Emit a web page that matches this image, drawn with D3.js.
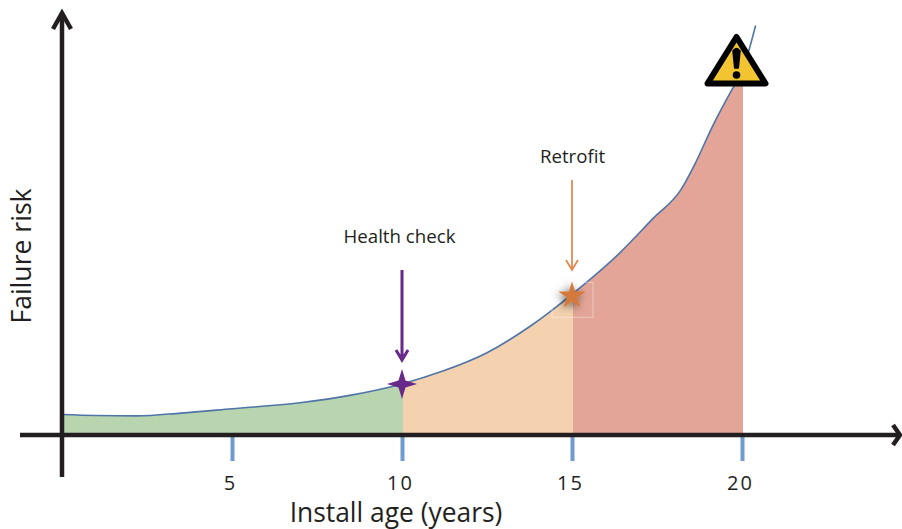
<!DOCTYPE html>
<html>
<head>
<meta charset="utf-8">
<script src="https://cdn.jsdelivr.net/npm/d3@7"></script>
<style>
    html, body { margin: 0; padding: 0; background: #fff; }
    svg { display: block; font-family: "Open Sans", "Noto Sans", sans-serif; fill: #231f20; }
    .axis-line { stroke: #231f20; stroke-width: 4.5; fill: none; stroke-linejoin: miter; }
</style>
</head>
<body>
<div id="chart"></div>
<script>
// values, risk is on an arbitrary 0-100 scale
const AGES = [0, 1, 2.2, 3.5, 5, 7, 8.5, 10, 11.2, 12.5, 13.8, 15, 16.4, 17.4, 18.2, 18.6, 19.15, 19.7, 20, 20.4];
const RISK = [4.75, 4.5, 4.4, 5.1, 6.2, 7.7, 9.6, 12.4, 15.6, 20.2, 27, 34.8, 45.1, 53.9, 60.9, 67.1, 77.1, 85.9, 90.4, 102];
const TICKS = [5, 10, 15, 20];
const ZONES = [
    { from: 0, to: 10, color: "#b8d5b0" },
    { from: 10, to: 15, color: "#f4d2b0" },
    { from: 15, to: 20, color: "#e3a597" }
];
const EVENTS = [
    { age: 10, risk: 12.4, label: "Health check", color: "#68298a", top: 270, bottom: 360, width: 3, labelX: 399.5, labelY: 243 },
    { age: 15, risk: 34.8, label: "Retrofit", color: "#df8b50", top: 180, bottom: 270, width: 1.8, labelX: 572.5, labelY: 163 }
];

const width = 902;
const height = 529;

const svg = d3.select("#chart")
    .append("svg")
    .attr("width", width)
    .attr("height", height)
    .attr("viewBox", `0 0 ${width} ${height}`);

const x = d3.scaleLinear().domain([0, 20]).range([62, 742]);
const y = d3.scaleLinear().domain([0, 100]).range([433.5, 33.5]);

const data = AGES.map((age, i) => ({ age, risk: RISK[i] }));

const defs = svg.append("defs");
const shadow = defs.append("filter")
    .attr("id", "star-shadow")
    .attr("x", "-80%").attr("y", "-80%")
    .attr("width", "260%").attr("height", "260%");
shadow.append("feDropShadow")
    .attr("dx", -2).attr("dy", 2)
    .attr("stdDeviation", 4)
    .attr("flood-color", "#000")
    .attr("flood-opacity", 0.55);

ZONES.forEach((z, i) => {
    defs.append("clipPath")
        .attr("id", `zone-${i}`)
        .append("rect")
        .attr("x", x(z.from))
        .attr("y", 0)
        .attr("width", x(z.to) - x(z.from) + 1)
        .attr("height", height);
});

const area = d3.area()
    .x(d => x(d.age))
    .y0(y(0))
    .y1(d => y(d.risk))
    .curve(d3.curveMonotoneX);

const line = d3.line()
    .x(d => x(d.age))
    .y(d => y(d.risk))
    .curve(d3.curveMonotoneX);

// later zones are drawn over the overlap, so there is no seam between them
svg.selectAll(".zone")
    .data(ZONES.slice().reverse())
    .enter()
    .append("path")
    .attr("class", "zone")
    .attr("d", area(data))
    .attr("fill", d => d.color)
    .attr("clip-path", d => `url(#zone-${ZONES.indexOf(d)})`);

svg.append("path")
    .attr("d", line(data))
    .attr("fill", "none")
    .attr("stroke", "#4f74a8")
    .attr("stroke-width", 1.6);

// ticks below the axis
const xAxis = svg.append("g")
    .attr("transform", "translate(0,435)")
    .call(d3.axisBottom(x).tickValues(TICKS).tickSize(26).tickPadding(15).tickFormat(d3.format("d")));
xAxis.select(".domain").remove();
xAxis.selectAll("line").attr("stroke", "#6f9bd1").attr("stroke-width", 4);
xAxis.selectAll("text")
    .attr("x", -2)
    .attr("fill", "#231f20")
    .attr("font-size", 20)
    .attr("letter-spacing", 2)
    .attr("font-family", "'Open Sans', sans-serif");

// main axes
svg.append("path").attr("class", "axis-line").attr("d", "M20,435H899");
svg.append("path").attr("class", "axis-line").attr("d", "M893,425L900,435L893,445");
svg.append("path").attr("class", "axis-line").attr("d", "M62,477V13");
svg.append("path").attr("class", "axis-line").attr("d", "M53,29L62,13L71,29");

svg.append("text")
    .attr("x", 396)
    .attr("y", 521.5)
    .attr("text-anchor", "middle")
    .attr("font-size", 26.4)
    .text("Install age (years)");

svg.append("text")
    .attr("transform", "translate(30.5,256) rotate(-90)")
    .attr("text-anchor", "middle")
    .attr("font-size", 26.6)
    .text("Failure risk");

// event arrows and labels
EVENTS.forEach(e => {
    const cx = x(e.age);
    svg.append("path")
        .attr("d", `M${cx},${e.top}V${e.bottom}M${cx - 6},${e.bottom - 10}L${cx},${e.bottom}L${cx + 6},${e.bottom - 10}`)
        .attr("fill", "none")
        .attr("stroke", e.color)
        .attr("stroke-width", e.width);
    svg.append("text")
        .attr("x", e.labelX)
        .attr("y", e.labelY)
        .attr("text-anchor", "middle")
        .attr("font-size", 18.7)
        .text(e.label);
});

// four point star on the health check
const hc = EVENTS[0];
const r = 15;
const n = 3.5;
const sparkle = [[0, -r], [n, -n], [r, 0], [n, n], [0, r], [-n, n], [-r, 0], [-n, -n]];
svg.append("path")
    .attr("transform", `translate(${x(hc.age)},${y(hc.risk)})`)
    .attr("d", d3.line().curve(d3.curveLinearClosed)(sparkle))
    .attr("fill", hc.color);

// retrofit star with its faint selection box
const rf = EVENTS[1];
svg.append("rect")
    .attr("x", x(rf.age) - 20)
    .attr("y", y(rf.risk) - 12)
    .attr("width", 41)
    .attr("height", 35)
    .attr("fill", "none")
    .attr("stroke", "#fff")
    .attr("stroke-opacity", 0.4);
svg.append("path")
    .attr("transform", `translate(${x(rf.age)},${y(rf.risk) + 1.5})`)
    .attr("d", d3.symbol().type(d3.symbolStar).size(230)())
    .attr("fill", "#d2793a")
    .attr("filter", "url(#star-shadow)");

// warning sign at the end of the curve
const warning = svg.append("g").attr("transform", `translate(${x(20) - 5.5},0)`);
warning.append("path")
    .attr("d", "M0,37L29,83.5H-29Z")
    .attr("fill", "#f2c431")
    .attr("stroke", "#000")
    .attr("stroke-width", 6)
    .attr("stroke-linejoin", "round");
warning.append("path")
    .attr("d", "M-3.5,51Q0,46 3.5,51L1.8,68H-1.8Z")
    .attr("fill", "#000")
    .attr("stroke", "#000")
    .attr("stroke-width", 1.5)
    .attr("stroke-linejoin", "round");
warning.append("circle")
    .attr("cx", 0)
    .attr("cy", 75)
    .attr("r", 3.8)
    .attr("fill", "#000");
</script>
</body>
</html>
